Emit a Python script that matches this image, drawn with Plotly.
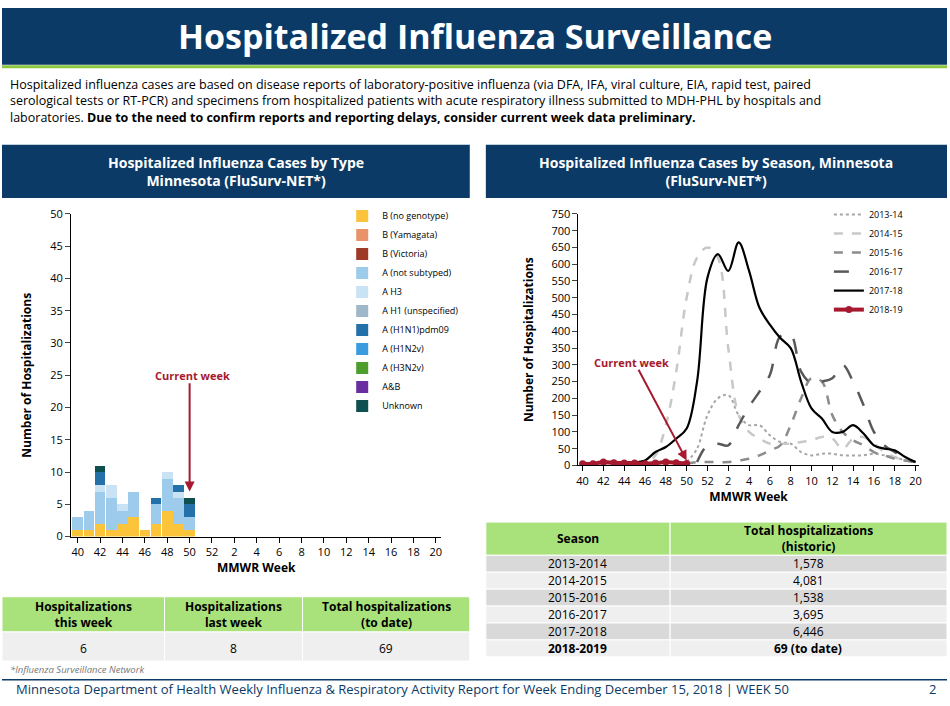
import plotly.graph_objects as go

F = "Open Sans"
NAVY = "#0b3a66"
weeks_bar = [str(w) for w in [40,41,42,43,44,45,46,47,48,49,50,51,52,1,2,3,4,5,6,7,8,9,10,11,12,13,14,15,16,17,18,19,20]]
bar_types = ["B (no genotype)","B (Yamagata)","B (Victoria)","A (not subtyped)","A H3","A H1 (unspecified)",
             "A (H1N1)pdm09","A (H1N2v)","A (H3N2v)","A&B","Unknown"]
bar_colors = ["#fcc43b","#e8936a","#9e3a26","#9ccbeb","#c9e3f5","#9fb7c8","#2470a8","#3a9be0","#4d9e2d","#6b2e9e","#0e4f4f"]
bar_vals = {
 "B (no genotype)":   [1,1,2,1,2,3,1,2,4,2,1],
 "B (Yamagata)":      [0]*11,
 "B (Victoria)":      [0]*11,
 "A (not subtyped)":  [2,3,5,5,2,4,0,3,5,4,2],
 "A H3":              [0,0,1,2,1,0,0,0,1,1,0],
 "A H1 (unspecified)":[0]*11,
 "A (H1N1)pdm09":     [0,0,2,0,0,0,0,1,0,1,2],
 "A (H1N2v)":         [0]*11,
 "A (H3N2v)":         [0]*11,
 "A&B":               [0]*11,
 "Unknown":           [0,0,1,0,0,0,0,0,0,0,1],
}
seasons = ["2013-14","2014-15","2015-16","2016-17","2017-18","2018-19"]
s_vals = {
 "2013-14":[None]*10+[10,50,150,200,210,150,120,120,90,70,65,40,30,35,35,30,30,30,35,30,25,15,10],
 "2014-15":[5,5,5,5,5,5,5,30,120,280,500,620,650,620,350,150,100,80,65,65,65,70,75,85,80,50,80,85,65,40,25,15,10],
 "2015-16":[None]*10+[5,10,10,10,10,15,20,30,45,60,120,200,260,250,150,100,75,60,40,30,20,15,10],
 "2016-17":[None]*11+[10,60,65,60,120,175,220,270,385,390,280,245,250,260,300,250,180,100,60,40,20,10],
 "2017-18":[None]*5+[10,15,40,55,80,110,250,560,630,580,665,580,470,420,380,350,250,170,140,100,100,120,95,60,50,45,25,10],
 "2018-19":[5,5,10,8,7,7,5,7,10,8,6],
}
s_style = {"2013-14":("#a6a6a6","dot",2),"2014-15":("#c8c8c8","dash",2.5),"2015-16":("#8c8c8c","dash",2.5),
           "2016-17":("#595959","longdash",2.5),"2017-18":("#000000","solid",2.2),"2018-19":("#a6192e","solid",4)}
tick_lbl = ["40","42","44","46","48","50","52","2","4","6","8","10","12","14","16","18","20"]

fig = go.Figure()
for t, c in zip(bar_types, bar_colors):
    fig.add_bar(x=weeks_bar[:11], y=bar_vals[t], name=t, marker_color=c, marker_line_width=0,
                xaxis="x", yaxis="y", legend="legend", width=0.95)
for s in seasons:
    c, d, w = s_style[s]
    fig.add_scatter(x=weeks_bar[:len(s_vals[s])], y=s_vals[s], name=s, mode="lines+markers" if s=="2018-19" else "lines",
                    line=dict(color=c, dash=d, width=w, shape="spline"), marker=dict(size=7, color=c),
                    xaxis="x2", yaxis="y2", legend="legend2")

ax = dict(type="category", categoryorder="array", categoryarray=weeks_bar, tickvals=tick_lbl, ticktext=tick_lbl,
          showline=True, linecolor="#000", ticks="outside", tickcolor="#000", tickfont=dict(size=11, family=F, color="#000"),
          showgrid=False, title_font=dict(size=12, family=F, color="#000"), fixedrange=True)
fig.update_layout(
    width=950, height=706, margin=dict(l=0, r=0, t=0, b=0), paper_bgcolor="white", plot_bgcolor="white",
    font=dict(family=F), barmode="stack", bargap=0,
    xaxis=dict(ax, domain=[0.073, 0.465], range=[-0.6, 32.5], title=dict(text="<b>MMWR Week</b>", standoff=4), anchor="y"),
    yaxis=dict(domain=[0.235, 0.702], range=[0, 50], dtick=5, showline=True, linecolor="#000", ticks="outside",
               tickfont=dict(size=11, color="#000"), title=dict(text="<b>Number of Hospitalizations</b>", font=dict(size=12, color="#000")), showgrid=False),
    xaxis2=dict(ax, domain=[0.61, 0.97], range=[-0.4, 32.3], title=dict(text="<b>MMWR Week</b>", standoff=4), anchor="y2"),
    yaxis2=dict(domain=[0.338, 0.702], range=[0, 750], dtick=50, showline=True, linecolor="#000", ticks="outside",
                tickfont=dict(size=11, color="#000"), title=dict(text="<b>Number of Hospitalizations</b>", font=dict(size=12, color="#000")),
                showgrid=False, anchor="x2"),
    legend=dict(x=0.36, y=0.72, xanchor="left", yanchor="top", font=dict(size=9, color="#000"), traceorder="normal",
                itemwidth=30, tracegroupgap=3, bgcolor="rgba(0,0,0,0)"),
    legend2=dict(x=0.875, y=0.722, xanchor="left", yanchor="top", font=dict(size=9, color="#000"), traceorder="normal",
                 bgcolor="rgba(0,0,0,0)", tracegroupgap=6),
    showlegend=True,
)
shapes = [
    dict(type="rect", xref="paper", yref="paper", x0=0, x1=1, y0=0.918, y1=1, fillcolor=NAVY, line_width=0, layer="below"),
    dict(type="line", xref="paper", yref="paper", x0=0, x1=1, y0=0.915, y1=0.915, line=dict(color="#8dc63f", width=3)),
    dict(type="rect", xref="paper", yref="paper", x0=0, x1=0.495, y0=0.725, y1=0.802, fillcolor=NAVY, line_width=0, layer="below"),
    dict(type="rect", xref="paper", yref="paper", x0=0.512, x1=1, y0=0.725, y1=0.802, fillcolor=NAVY, line_width=0, layer="below"),
    dict(type="line", xref="paper", yref="paper", x0=0, x1=1, y0=0.028, y1=0.028, line=dict(color=NAVY, width=1.5)),
]
def rowrect(x0, x1, y0, y1, col):
    shapes.append(dict(type="rect", xref="paper", yref="paper", x0=x0, x1=x1, y0=y0, y1=y1, fillcolor=col,
                       line=dict(color="white", width=1), layer="below"))
ann = [
    dict(text="<b>Hospitalized Influenza Surveillance</b>", x=0.5, y=0.96, font=dict(size=34, color="white")),
    dict(text="Hospitalized influenza cases are based on disease reports of laboratory-positive influenza (via DFA, IFA, viral culture, EIA, rapid test, paired<br>serological tests or RT-PCR) and specimens from hospitalized patients with acute respiratory illness submitted to MDH-PHL by hospitals and<br>laboratories. <b>Due to the need to confirm reports and reporting delays, consider current week data preliminary.</b>",
         x=0.006, y=0.865, xanchor="left", align="left", font=dict(size=12.5, color="#000")),
    dict(text="<b>Hospitalized Influenza Cases by Type<br>Minnesota (FluSurv-NET*)</b>", x=0.248, y=0.764, font=dict(size=14, color="white")),
    dict(text="<b>Hospitalized Influenza Cases by Season, Minnesota<br>(FluSurv-NET*)</b>", x=0.756, y=0.764, font=dict(size=14, color="white")),
    dict(text="<i>*Influenza Surveillance Network</i>", x=0.006, y=0.042, xanchor="left", font=dict(size=9.5, color="#777")),
    dict(text="Minnesota Department of Health Weekly Influenza & Respiratory Activity Report for Week Ending December 15, 2018 | WEEK 50",
         x=0.013, y=0.015, xanchor="left", font=dict(size=13, color=NAVY)),
    dict(text="2", x=0.99, y=0.015, xanchor="right", font=dict(size=13, color=NAVY)),
    dict(text="<b>Current week</b>", x=0.202, y=0.468, font=dict(size=11, color="#a6192e")),
    dict(text="<b>Current week</b>", x=0.666, y=0.487, font=dict(size=11, color="#a6192e")),
]
GREEN, GRAY, LG = "#a9e27a", "#d9d9d9", "#efefef"
lt_h = ["<b>Hospitalizations<br>this week</b>", "<b>Hospitalizations<br>last week</b>", "<b>Total hospitalizations<br>(to date)</b>"]
lt_v = ["6", "8", "69"]
cols = [(0, 0.172), (0.172, 0.318), (0.318, 0.495)]
for (a, b), h, v in zip(cols, lt_h, lt_v):
    rowrect(a, b, 0.097, 0.148, GREEN)
    rowrect(a, b, 0.055, 0.097, LG)
    ann.append(dict(text=h, x=(a+b)/2, y=0.122, font=dict(size=12, color="#000")))
    ann.append(dict(text=v, x=(a+b)/2, y=0.073, font=dict(size=12, color="#000")))
season_rows = ["2013-2014","2014-2015","2015-2016","2016-2017","2017-2018","<b>2018-2019</b>"]
total_rows = ["1,578","4,081","1,538","3,695","6,446","<b>69 (to date)</b>"]
rowrect(0.512, 0.707, 0.208, 0.256, GREEN); rowrect(0.707, 1, 0.208, 0.256, GREEN)
ann.append(dict(text="<b>Season</b>", x=0.609, y=0.232, font=dict(size=12, color="#000")))
ann.append(dict(text="<b>Total hospitalizations<br>(historic)</b>", x=0.853, y=0.232, font=dict(size=12, color="#000")))
rh = 0.0245
for i, (s, t) in enumerate(zip(season_rows, total_rows)):
    y1 = 0.208 - i*rh; y0 = y1 - rh
    col = GRAY if i % 2 == 0 else LG
    rowrect(0.512, 0.707, y0, y1, col); rowrect(0.707, 1, y0, y1, col)
    ann.append(dict(text=s, x=0.609, y=(y0+y1)/2, font=dict(size=12, color="#000")))
    ann.append(dict(text=t, x=0.853, y=(y0+y1)/2, font=dict(size=12, color="#000")))
for a in ann:
    a.setdefault("xref", "paper"); a.setdefault("yref", "paper"); a.setdefault("showarrow", False)
    a.setdefault("xanchor", "center"); a["yanchor"] = "middle"
    a["font"]["family"] = F
ann.append(dict(x=10, y=7, xref="x", yref="y", ax=10, ay=24, axref="x", ayref="y",
                showarrow=True, arrowhead=2, arrowsize=1, arrowwidth=2, arrowcolor="#a6192e", text=""))
ann.append(dict(x=10, y=15, xref="x2", yref="y2", ax=5.3, ay=290, axref="x2", ayref="y2",
                showarrow=True, arrowhead=2, arrowsize=1, arrowwidth=2, arrowcolor="#a6192e", text=""))
fig.update_layout(shapes=shapes, annotations=ann)
fig.write_html("out.html", config={"displayModeBar": False},
               post_script="document.body.style.margin='0';document.body.style.overflow='hidden';")
